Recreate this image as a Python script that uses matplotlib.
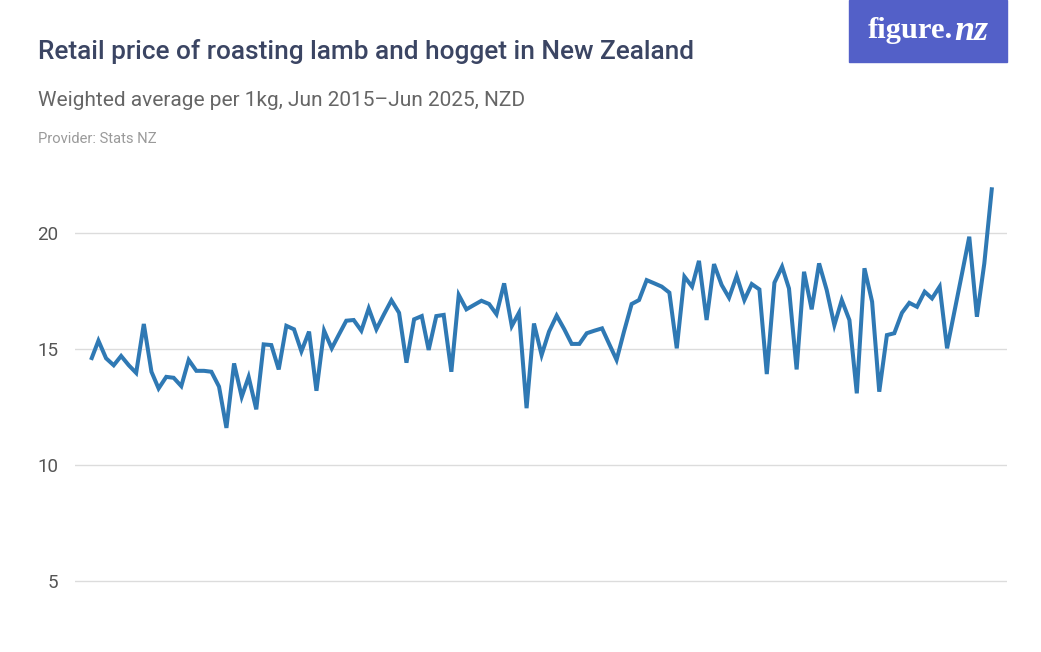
import matplotlib
matplotlib.use('Agg')
import matplotlib.pyplot as plt
import pandas as pd
from matplotlib.patches import Rectangle

# monthly retail price, NZD per kg, Jun 2015 - Jun 2025
months = pd.date_range('2015-06-01', periods=121, freq='MS')
price = [
    14.53, 15.36, 14.6, 14.3, 14.7, 14.3, 13.97, 16.08, 14.02, 13.3,
    13.8, 13.76, 13.4, 14.53, 14.06, 14.06, 14.02, 13.38, 11.6, 14.38,
    12.94, 13.8, 12.4, 15.2, 15.17, 14.12, 16.0, 15.85, 14.9, 15.75,
    13.2, 15.79, 15.03, 15.6, 16.22, 16.25, 15.79, 16.75, 15.85, 16.5,
    17.1, 16.56, 14.41, 16.28, 16.42, 14.96, 16.42, 16.47, 14.02, 17.33,
    16.71, 16.9, 17.08, 16.94, 16.5, 17.83, 15.99, 16.56, 12.45, 16.1,
    14.74, 15.75, 16.44, 15.85, 15.22, 15.22, 15.68, 15.79, 15.89, 15.24,
    14.53, 15.75, 16.94, 17.11, 17.97, 17.83, 17.69, 17.43, 15.03, 18.12,
    17.69, 18.8, 16.25, 18.66, 17.76, 17.21, 18.15, 17.11, 17.8, 17.57,
    13.92, 17.86, 18.55, 17.61, 14.12, 18.33, 16.71, 18.69, 17.54, 16.03,
    17.11, 16.25, 13.09, 18.48, 17.04, 13.16, 15.6, 15.68, 16.56, 16.99,
    16.82, 17.47, 17.18, 17.69, 15.03, 16.68, 18.33, 19.84, 16.39, 18.69,
    21.97,
]
yticks = [5, 10, 15, 20]

W, H = 1041, 652
fig = plt.figure(figsize=(W / 100, H / 100), dpi=100)
fig.patch.set_facecolor('white')
renderer = fig.canvas.get_renderer()

def px(x0, y0, x1, y1):
    # pixel box -> figure fraction [left, bottom, width, height]
    return [x0 / W, 1 - y1 / H, (x1 - x0) / W, (y1 - y0) / H]

def fit_text(t, width_px):
    # shrink/grow font so the text spans the same width as in the reference
    w = t.get_window_extent(renderer).width
    t.set_fontsize(t.get_fontsize() * width_px / w)

ax = fig.add_axes(px(75, 163.4, 1007, 599.6))
ax.plot(months, price, color='#2f79b4', lw=2.9, solid_joinstyle='miter',
        solid_capstyle='butt', zorder=3)

pad = pd.Timedelta(days=65)
ax.set_xlim(months[0] - pad, months[-1] + pd.Timedelta(days=61))
ax.set_ylim(4.2, 23)
ax.set_yticks(yticks)
ax.set_yticklabels([str(t) for t in yticks])
ax.set_xticks([])
for s in ax.spines.values():
    s.set_visible(False)
ax.grid(axis='y', color='#dcdcdc', lw=1.0, zorder=0)
ax.tick_params(axis='y', length=0, pad=12, labelsize=13.5, labelcolor='#555555')
for lab in ax.get_yticklabels():
    lab.set_fontfamily('Roboto')

# titles
title = fig.text(38 / W, 1 - 52 / H, 'Retail price of roasting lamb and hogget in New Zealand',
                 fontsize=19, color='#3b4563', va='center', ha='left',
                 family='Roboto', weight='medium')
fit_text(title, 656)
sub = fig.text(38 / W, 1 - 101 / H, 'Weighted average per 1kg, Jun 2015\u2013Jun 2025, NZD',
               fontsize=16, color='#666666', va='center', ha='left', family='Roboto')
fit_text(sub, 489)
prov = fig.text(38 / W, 1 - 139 / H, 'Provider: Stats NZ',
                fontsize=10.5, color='#9a9a9a', va='center', ha='left', family='Roboto')
fit_text(prov, 119)

# logo box
fig.patches.append(Rectangle((849 / W, 1 - 62 / H), 158 / W, 62 / H,
                             transform=fig.transFigure, color='#5360c8', zorder=1))
f1 = fig.text(868 / W, 1 - 31 / H, 'figure.', fontsize=22, color='white',
              ha='left', va='center', family='Liberation Serif', weight='bold', zorder=2)
fit_text(f1, 85)
f2 = fig.text(954 / W, 1 - 31 / H, 'nz', fontsize=22, color='white', style='italic',
              ha='left', va='center', family='Liberation Serif', weight='bold', zorder=2)
fit_text(f2, 34)

fig.savefig('out.png', dpi=100)
